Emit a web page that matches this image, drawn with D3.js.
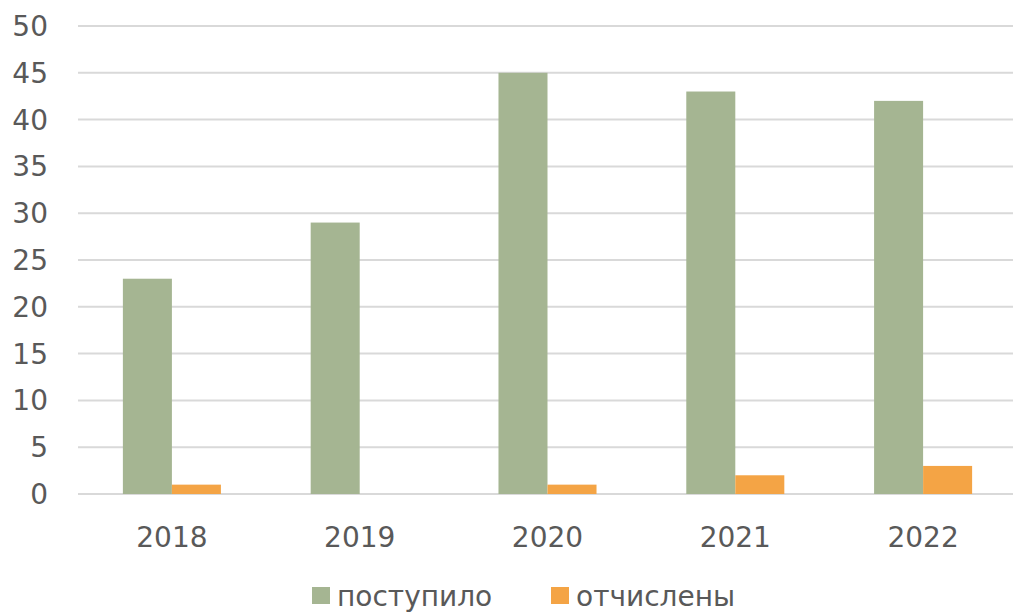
<!DOCTYPE html>
<html>
<head>
<meta charset="utf-8">
<script src="https://cdn.jsdelivr.net/npm/d3@7"></script>
<style>
  body { margin: 0; background: #fff; }
  text { font-family: "DejaVu Sans", sans-serif; fill: #595959; }
</style>
</head>
<body>
<div id="container"></div>
<script>
// data
const years = ['2018', '2019', '2020', '2021', '2022'];
const seriesNames = ['поступило', 'отчислены'];
const admitted = [23, 29, 45, 43, 42];
const expelled = [1, 0, 1, 2, 3];
const yTicks = [0, 5, 10, 15, 20, 25, 30, 35, 40, 45, 50];
const colors = ['#a5b592', '#f4a445'];

const width = 1013, height = 614;
const svg = d3.select('#container').append('svg')
    .attr('width', width)
    .attr('height', height);

//scales
const x = d3.scaleBand()
    .domain(years)
    .range([78, 1017])
    .paddingInner(0.478)
    .paddingOuter(0.239);

const sub = d3.scaleBand()
    .domain(seriesNames)
    .range([0, x.bandwidth()]);

const y = d3.scaleLinear()
    .domain([0, 50])
    .range([494, 26]);

//gridlines
svg.append('g')
    .selectAll('line')
    .data(yTicks)
    .enter().append('line')
    .attr('x1', 78)
    .attr('x2', width)
    .attr('y1', d => y(d))
    .attr('y2', d => y(d))
    .attr('stroke', '#d9d9d9')
    .attr('stroke-width', 2);

//y labels
svg.append('g')
    .selectAll('text')
    .data(yTicks)
    .enter().append('text')
    .attr('x', 48)
    .attr('y', d => y(d))
    .attr('dy', '0.36em')
    .attr('text-anchor', 'end')
    .attr('font-size', 28)
    .text(d => d);

//bars
const table = years.map((yr, i) => ({ year: yr, values: [admitted[i], expelled[i]] }));

const groups = svg.append('g')
    .selectAll('g')
    .data(table)
    .enter().append('g')
    .attr('transform', d => `translate(${x(d.year)},0)`);

groups.selectAll('rect')
    .data(d => d.values.map((v, j) => ({ name: seriesNames[j], value: v, j })))
    .enter().append('rect')
    .attr('x', d => sub(d.name))
    .attr('width', sub.bandwidth())
    .attr('y', d => y(d.value))
    .attr('height', d => y(0) - y(d.value))
    .attr('fill', d => colors[d.j]);

//x labels
svg.append('g')
    .selectAll('text')
    .data(years)
    .enter().append('text')
    .attr('x', d => x(d) + x.bandwidth() / 2)
    .attr('y', 547)
    .attr('text-anchor', 'middle')
    .attr('font-size', 28)
    .text(d => d);

//legend
const legendX = [312, 551];
const legend = svg.append('g')
    .selectAll('g')
    .data(seriesNames)
    .enter().append('g')
    .attr('transform', (d, i) => `translate(${legendX[i]},587)`);

legend.append('rect')
    .attr('width', 18)
    .attr('height', 17)
    .attr('fill', (d, i) => colors[i]);

legend.append('text')
    .attr('x', 25)
    .attr('y', 19)
    .attr('font-size', 28)
    .text(d => d);
</script>
</body>
</html>
